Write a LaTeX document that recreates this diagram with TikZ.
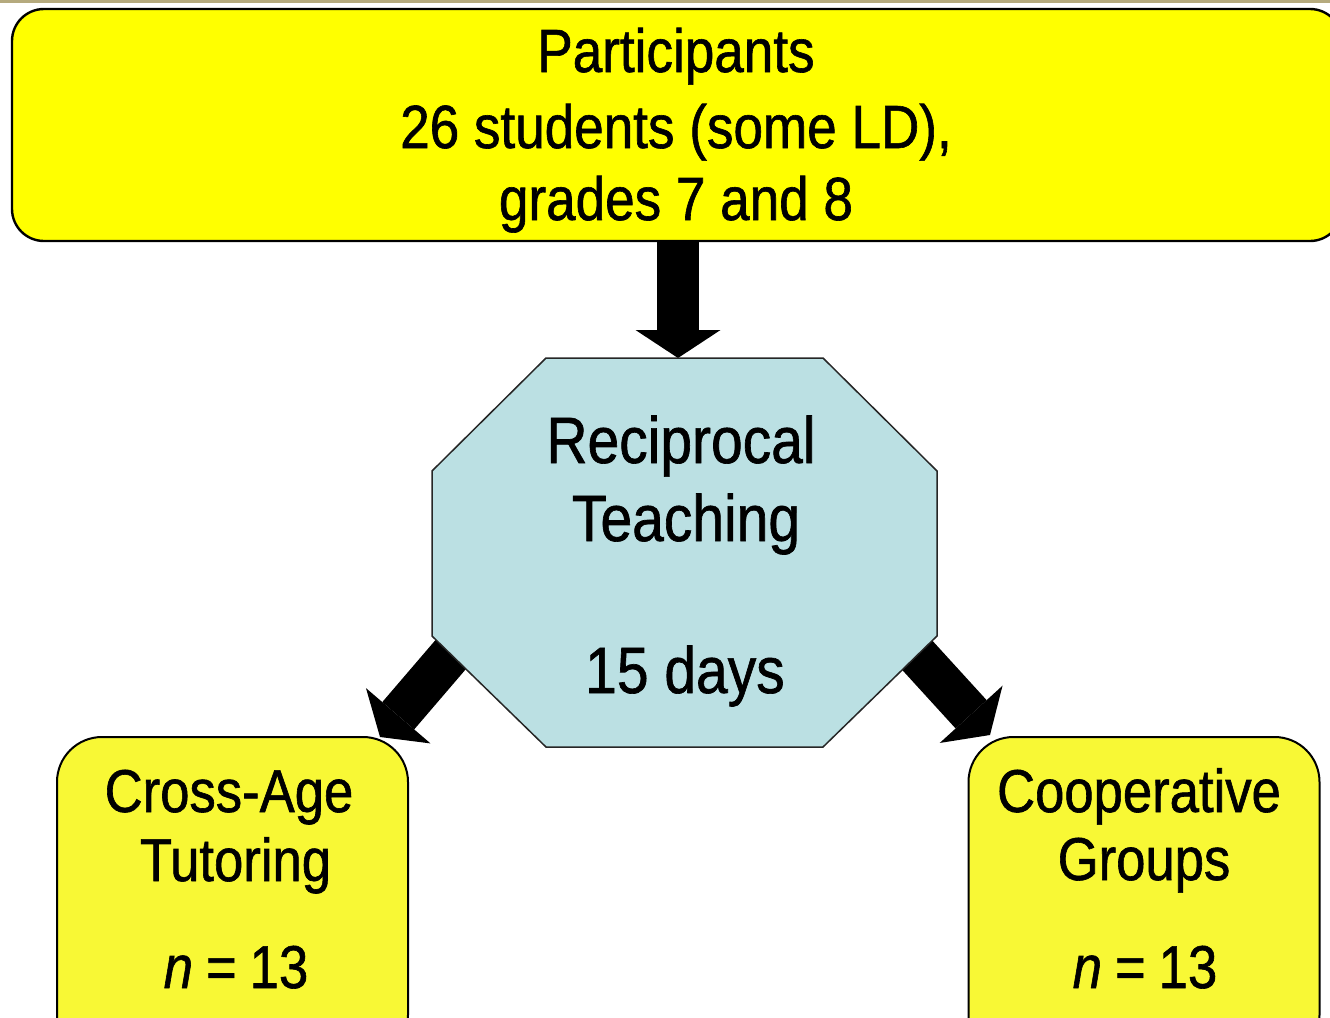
\documentclass[tikz,border=0pt]{standalone}
\usepackage{fontspec}
\setmainfont{Liberation Sans}[FakeStretch=0.87,FakeBold=1]
\usetikzlibrary{arrows.meta}
\definecolor{topyellow}{HTML}{FFFF00}
\definecolor{boxyellow}{HTML}{F8F835}
\definecolor{octblue}{HTML}{BBE0E3}
\definecolor{rulecol}{HTML}{B5AA7E}
\newcommand{\nsp}{\hspace{13pt}}
\tikzset{
  bigarrow/.style={line width=42pt, line cap=butt,
    -{Triangle[length=28pt,width=85pt,line width=0pt]}},
  topbox/.style={draw, line width=2.4pt, fill=topyellow, rounded corners=32pt,
    minimum width=1330pt, minimum height=232pt, inner sep=0pt},
  groupbox/.style={draw, line width=2pt, fill=boxyellow, rounded corners=45pt,
    minimum width=351pt, minimum height=323pt, inner sep=0pt},
  octshape/.style={draw=black!85, line width=1.5pt, fill=octblue, line join=miter},
  txt/.style={anchor=base, inner sep=0pt, font=\fontsize{61}{72}\selectfont},
  grptxt/.style={anchor=base, inner sep=0pt, font=\fontsize{60.5}{72}\selectfont},
  octtxt/.style={anchor=base, inner sep=0pt, font=\fontsize{65.5}{78}\selectfont},
}
\begin{document}
\begin{tikzpicture}[x=1pt,y=-1pt]
\useasboundingbox (0,0) rectangle (1330,1017);
\clip (0,0) rectangle (1330,1017);
% top rule
\fill[rulecol] (0,0) rectangle (1330,3);

% boxes
\node[topbox] (top) at (677,125) {};
\node[groupbox] (cat) at (232.5,898.5) {};
\node[groupbox] (cg) at (1144,898.5) {};

% octagon vertices
\coordinate (o1) at (546,358);
\coordinate (o2) at (823,358);
\coordinate (o3) at (937,471);
\coordinate (o4) at (937,636);
\coordinate (o5) at (823,747);
\coordinate (o6) at (546,747);
\coordinate (o7) at (432,636);
\coordinate (o8) at (432,471);
\coordinate (octN) at (678,358);
\coordinate (octSW) at (465.5,637.3);
\coordinate (octSE) at (903.5,640.2);
\coordinate (tipL) at (380,737);
\coordinate (tipR) at (990,735);

% arrows
\draw[bigarrow] (top.south -| octN) -- (octN);
\draw[bigarrow] (octSW) -- (tipL);
\draw[bigarrow] (octSE) -- (tipR);

% octagon
\draw[octshape] (o1) -- (o2) -- (o3) -- (o4) -- (o5) -- (o6) -- (o7) -- (o8) -- cycle;

% texts
\node[txt] (p1) at (676,72) {Participants};
\node[txt] (p2) at (676,148) {26 students (some LD),};
\node[txt] (p3) at (676,220) {grades 7 and 8};

\node[octtxt] (r1) at (681,463) {Reciprocal};
\node[octtxt] (r2) at (686,541) {Teaching};
\node[octtxt] (r3) at (685,693) {15 days};

\node[grptxt] (c1) at (229,812) {Cross-Age};
\node[grptxt] (c2) at (235.5,881) {Tutoring};
\node[grptxt] (c3) at (236,988) {\textit{n}\nsp=\nsp13};

\node[grptxt] (g1) at (1139,812) {Cooperative};
\node[grptxt] (g2) at (1144,880) {Groups};
\node[grptxt] (g3) at (1145,988) {\textit{n}\nsp=\nsp13};
\end{tikzpicture}
\end{document}
